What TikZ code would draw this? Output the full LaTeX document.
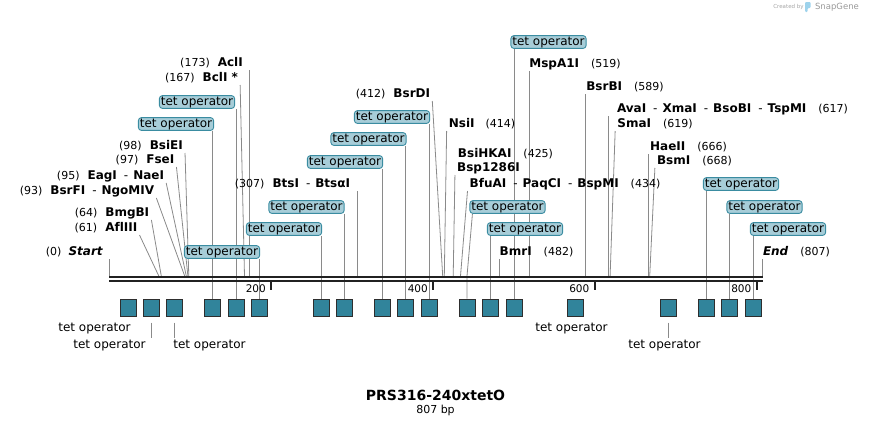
\documentclass[tikz,border=0pt]{standalone}
\usepackage{fontspec}
\setmainfont[Ligatures = NoCommon]{DejaVu Sans}
\setsansfont[Ligatures = NoCommon]{DejaVu Sans}
\usetikzlibrary{backgrounds}
\definecolor{featFill}{HTML}{31849B}
\definecolor{featDraw}{HTML}{2E2E2E}
\definecolor{tagFill}{HTML}{A7CDD8}
\definecolor{tagDraw}{HTML}{3A8CA1}
\definecolor{siteGray}{HTML}{8A8A8A}
\definecolor{logoBlue}{HTML}{9ED3EC}
\newcommand{\posn}[1]{{\fontsize{11bp}{13bp}\selectfont\mdseries #1}}
\newcommand{\sepr}{\hspace{7bp}{\mdseries -}\hspace{5bp}}

\begin{document}
\begin{tikzpicture}[x = 1bp, y = -1bp, font=\sffamily]
	\tikzstyle{rulerStyle} = [line width = 2.4bp, color = black!87]
	\tikzstyle{tickStyle} = [line width = 2bp, color = black!87]
	\tikzstyle{featureStyle} = [shape = rectangle, minimum width = 16bp, minimum height = 17bp, inner sep = 0pt, fill = featFill, draw = featDraw, line width = 1bp]
	\tikzstyle{operatorStyle} = [shape = rectangle, rounded corners = 3bp, fill = tagFill, draw = tagDraw, line width = 0.9bp, inner xsep = 1.5bp, inner ysep = 0.6bp, text height = 9bp, text depth = 2.6bp, font = \fontsize{12bp}{14bp}\selectfont]
	\tikzstyle{plainTagStyle} = [inner sep = 1bp, text height = 9bp, text depth = 2.6bp, font = \fontsize{12bp}{14bp}\selectfont]
	\tikzstyle{enzymeStyle} = [inner xsep = 2bp, inner ysep = 1bp, text height = 9bp, text depth = 2.6bp, font = \fontsize{12bp}{14bp}\selectfont\bfseries]
	\tikzstyle{tickLabelStyle} = [inner sep = 0pt, font = \fontsize{10.5bp}{12bp}\selectfont]
	\tikzstyle{siteStyle} = [draw = siteGray, line width = 0.8bp]
	\useasboundingbox (0, 0) rectangle (872, 426);
	% sites on the ruler
	\coordinate (s0) at (109.5, 276);
	\coordinate (s61) at (158.8, 276);
	\coordinate (s64) at (161.3, 276);
	\coordinate (s93) at (184.7, 276);
	\coordinate (s95) at (186.3, 276);
	\coordinate (s97) at (187.9, 276);
	\coordinate (s98) at (188.8, 276);
	\coordinate (s167) at (244.5, 276);
	\coordinate (s173) at (249.4, 276);
	\coordinate (s307) at (357.8, 276);
	\coordinate (s412) at (442.7, 276);
	\coordinate (s414) at (444.3, 276);
	\coordinate (s425) at (453.2, 276);
	\coordinate (s434) at (460.5, 276);
	\coordinate (s482) at (499.3, 276);
	\coordinate (s519) at (529.2, 276);
	\coordinate (s589) at (585.8, 276);
	\coordinate (s617) at (608.5, 276);
	\coordinate (s619) at (610.1, 276);
	\coordinate (s666) at (648.1, 276);
	\coordinate (s668) at (649.7, 276);
	\coordinate (s807) at (762.1, 276);
	% ruler
	\draw[rulerStyle] (109, 277.2) -- (763, 277.2);
	\draw[rulerStyle] (109, 281.2) -- (763, 281.2);
	\draw[tickStyle] (271.2, 281) -- (271.2, 290);
	\draw[tickStyle] (433.0, 281) -- (433.0, 290);
	\draw[tickStyle] (594.7, 281) -- (594.7, 290);
	\draw[tickStyle] (756.5, 281) -- (756.5, 290);
	\node[tickLabelStyle, anchor = east] (k200) at (266, 289) {200};
	\node[tickLabelStyle, anchor = east] (k400) at (428, 289) {400};
	\node[tickLabelStyle, anchor = east] (k600) at (589.5, 289) {600};
	\node[tickLabelStyle, anchor = east] (k800) at (751.5, 289) {800};
	% tet operator boxes
	\node[featureStyle] (f0) at (128, 307.5) {};
	\node[featureStyle] (f1) at (151, 307.5) {};
	\node[featureStyle] (f2) at (174, 307.5) {};
	\node[featureStyle] (f3) at (212, 307.5) {};
	\node[featureStyle] (f4) at (236, 307.5) {};
	\node[featureStyle] (f5) at (259, 307.5) {};
	\node[featureStyle] (f6) at (321, 307.5) {};
	\node[featureStyle] (f7) at (344, 307.5) {};
	\node[featureStyle] (f8) at (382, 307.5) {};
	\node[featureStyle] (f9) at (405, 307.5) {};
	\node[featureStyle] (f10) at (429, 307.5) {};
	\node[featureStyle] (f11) at (467, 307.5) {};
	\node[featureStyle] (f12) at (490, 307.5) {};
	\node[featureStyle] (f13) at (514, 307.5) {};
	\node[featureStyle] (f14) at (575, 307.5) {};
	\node[featureStyle] (f15) at (668, 307.5) {};
	\node[featureStyle] (f16) at (706, 307.5) {};
	\node[featureStyle] (f17) at (729, 307.5) {};
	\node[featureStyle] (f18) at (753, 307.5) {};
	% tet operator labels
	\node[operatorStyle] (t3) at (176, 124) {tet operator};
	\node[operatorStyle] (t4) at (197, 102) {tet operator};
	\node[operatorStyle] (t5) at (222, 252) {tet operator};
	\node[operatorStyle] (t6) at (284, 229) {tet operator};
	\node[operatorStyle] (t7) at (306.5, 207) {tet operator};
	\node[operatorStyle] (t8) at (345, 162) {tet operator};
	\node[operatorStyle] (t9) at (368.5, 139) {tet operator};
	\node[operatorStyle] (t10) at (392, 117) {tet operator};
	\node[operatorStyle] (t11) at (507.5, 207) {tet operator};
	\node[operatorStyle] (t12) at (525, 229) {tet operator};
	\node[operatorStyle] (t13) at (548.5, 42) {tet operator};
	\node[operatorStyle] (t16) at (741, 184) {tet operator};
	\node[operatorStyle] (t17) at (764.5, 207) {tet operator};
	\node[operatorStyle] (t18) at (788, 229) {tet operator};
	\node[plainTagStyle] (b0) at (94.5, 328) {tet operator};
	\node[plainTagStyle] (b1) at (109.5, 345) {tet operator};
	\node[plainTagStyle] (b2) at (209.5, 345) {tet operator};
	\node[plainTagStyle] (b14) at (571.5, 328) {tet operator};
	\node[plainTagStyle] (b15) at (664.5, 345) {tet operator};
	% enzymes
	\node[enzymeStyle] (e0) at (74.5, 252) {\posn{(0)}\hspace{7bp}\textit{Start}};
	\node[enzymeStyle] (e1) at (106, 228) {\posn{(61)}\hspace{8bp}AflIII};
	\node[enzymeStyle] (e2) at (112, 213) {\posn{(64)}\hspace{8bp}BmgBI};
	\node[enzymeStyle] (e3) at (87, 191) {\posn{(93)}\hspace{8bp}BsrFI\sepr NgoMIV};
	\node[enzymeStyle] (e4) at (110.5, 176) {\posn{(95)}\hspace{8bp}EagI\sepr NaeI};
	\node[enzymeStyle] (e5) at (145, 160) {\posn{(97)}\hspace{8bp}FseI};
	\node[enzymeStyle] (e6) at (151, 146) {\posn{(98)}\hspace{8bp}BsiEI};
	\node[enzymeStyle] (e7) at (201.5, 78) {\posn{(167)}\hspace{8bp}BclI *};
	\node[enzymeStyle] (e8) at (211.5, 63) {\posn{(173)}\hspace{8bp}AclI};
	\node[enzymeStyle] (e9) at (292.5, 184) {\posn{(307)}\hspace{8bp}BtsI\sepr BtsαI};
	\node[enzymeStyle] (e10) at (393, 94) {\posn{(412)}\hspace{8bp}BsrDI};
	\node[enzymeStyle] (e11) at (482, 124) {NsiI\hspace{11bp}\posn{(414)}};
	\node[enzymeStyle] (e12) at (505.5, 154) {BsiHKAI\hspace{12bp}\posn{(425)}};
	\node[enzymeStyle] (e13) at (488.5, 168) {Bsp1286I};
	\node[enzymeStyle] (e14) at (565, 184) {BfuAI\sepr PaqCI\sepr BspMI\hspace{12bp}\posn{(434)}};
	\node[enzymeStyle] (e15) at (536.5, 252) {BmrI\hspace{12bp}\posn{(482)}};
	\node[enzymeStyle] (e16) at (575, 64) {MspA1I\hspace{12bp}\posn{(519)}};
	\node[enzymeStyle] (e17) at (625, 87) {BsrBI\hspace{12bp}\posn{(589)}};
	\node[enzymeStyle] (e18) at (732.5, 109) {AvaI\sepr XmaI\sepr BsoBI\sepr TspMI\hspace{12bp}\posn{(617)}};
	\node[enzymeStyle] (e19) at (655, 124) {SmaI\hspace{12bp}\posn{(619)}};
	\node[enzymeStyle] (e20) at (688.5, 147) {HaeII\hspace{12bp}\posn{(666)}};
	\node[enzymeStyle] (e21) at (694.5, 161) {BsmI\hspace{12bp}\posn{(668)}};
	\node[enzymeStyle] (e22) at (796.5, 252) {\textit{End}\hspace{12bp}\posn{(807)}};
	% title
	\node[font = \fontsize{14bp}{16bp}\selectfont\bfseries] (title) at (435.5, 395) {PRS316-240xtetO};
	\node[font = \fontsize{11bp}{13bp}\selectfont] (length) at (435.5, 410) {807 bp};
	\node[font = \fontsize{5.5bp}{6bp}\selectfont, text = black!35, inner sep = 0pt] (credit) at (788.5, 7) {Created by};
	\fill[logoBlue, rounded corners = 1bp] (805, 2) -- (810.5, 2) -- (810.5, 8) -- (807.5, 8) -- (807.5, 12) -- (805, 12) -- cycle;
	\node[font = \fontsize{8.5bp}{9bp}\selectfont, text = black!40, inner sep = 0pt] (brand) at (837, 7) {SnapGene};
	\begin{scope}[on background layer]
	\draw[siteStyle] (e0.south east -| s0) -- (s0);
	\draw[siteStyle] (e1.south east) -- (s61);
	\draw[siteStyle] (e2.south east) -- (s64);
	\draw[siteStyle] (e3.south east) -- (s93);
	\draw[siteStyle] (e4.south east) -- (s95);
	\draw[siteStyle] (e5.south east) -- (s97);
	\draw[siteStyle] (e6.south east) -- (s98);
	\draw[siteStyle] (e7.south east) -- (s167);
	\draw[siteStyle] (e8.south east -| s173) -- (s173);
	\draw[siteStyle] (e9.south east -| s307) -- (s307);
	\draw[siteStyle] (e10.south east) -- (s412);
	\draw[siteStyle] (e11.south west) -- (s414);
	\draw[siteStyle] (e13.south west) -- (s425);
	\draw[siteStyle] (e14.south west) -- (s434);
	\draw[siteStyle] (e15.south west -| s482) -- (s482);
	\draw[siteStyle] (e16.south west -| s519) -- (s519);
	\draw[siteStyle] (e17.south west -| s589) -- (s589);
	\draw[siteStyle] (e18.south west -| s617) -- (s617);
	\draw[siteStyle] (e19.south west) -- (s619);
	\draw[siteStyle] (e20.south west -| s666) -- (s666);
	\draw[siteStyle] (e21.south west) -- (s668);
	\draw[siteStyle] (e22.south west -| s807) -- (s807);
	% operator connectors
	\draw[siteStyle] (t3.south -| f3) -- (f3.north);
	\draw[siteStyle] (t4.south -| f4) -- (f4.north);
	\draw[siteStyle] (t5.south -| f5) -- (f5.north);
	\draw[siteStyle] (t6.south -| f6) -- (f6.north);
	\draw[siteStyle] (t7.south -| f7) -- (f7.north);
	\draw[siteStyle] (t8.south -| f8) -- (f8.north);
	\draw[siteStyle] (t9.south -| f9) -- (f9.north);
	\draw[siteStyle] (t10.south -| f10) -- (f10.north);
	\draw[siteStyle] ([xshift = 3bp]t11.south west) -- (f11.north |- s0) -- (f11.north);
	\draw[siteStyle] (t12.south -| f12) -- (f12.north);
	\draw[siteStyle] (t13.south -| f13) -- (f13.north);
	\draw[siteStyle] (t16.south -| f16) -- (f16.north);
	\draw[siteStyle] (t17.south -| f17) -- (f17.north);
	\draw[siteStyle] (t18.south -| f18) -- (f18.north);
	\draw[siteStyle] ([yshift = -6bp]f1.south) -- (f1.south |- b1.north);
	\draw[siteStyle] ([yshift = -6bp]f2.south) -- (f2.south |- b2.north);
	\draw[siteStyle] ([yshift = -6bp]f15.south) -- (f15.south |- b15.north);
	\end{scope}
\end{tikzpicture}
\end{document}
